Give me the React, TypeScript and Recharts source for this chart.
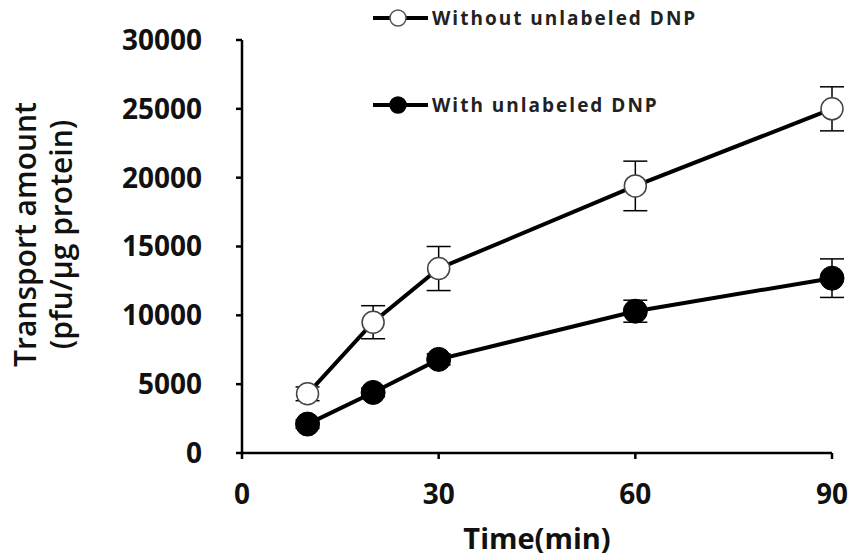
import React from 'react'
import {
  LineChart,
  Line,
  XAxis,
  YAxis,
  ErrorBar
} from 'recharts'

const times = [10, 20, 30, 60, 90]
const withoutDnp = [4300, 9500, 13400, 19400, 25000]
const withoutDnpErr = [500, 1200, 1600, 1800, 1600]
const withDnp = [2100, 4400, 6800, 10300, 12700]
const withDnpErr = [300, 300, 400, 800, 1400]
const xTicks = [0, 30, 60, 90]
const yTicks = [0, 5000, 10000, 15000, 20000, 25000, 30000]

const data = times.map((t, i) => ({
  time: t,
  without: withoutDnp[i],
  withoutErr: withoutDnpErr[i],
  withDnp: withDnp[i],
  withErr: withDnpErr[i]
}))

const FONT = '"Open Sans", "DejaVu Sans", sans-serif'

const YLabel = (props: any) => {
  const vb = props.viewBox || {}
  const cy = vb.y + vb.height / 2 - 12
  return (
    <g fontFamily={FONT} fontWeight={600} fontSize={30} fill="#111">
      <text x={25} y={cy} textAnchor="middle" transform={`rotate(-90, 25, ${cy})`} dy="0.35em">
        Transport amount
      </text>
      <text x={61} y={cy} textAnchor="middle" transform={`rotate(-90, 61, ${cy})`} dy="0.35em">
        (pfu/μg protein)
      </text>
    </g>
  )
}

const legendItems = [
  { label: 'Without unlabeled DNP', fill: '#fff', y: 18 },
  { label: 'With unlabeled DNP', fill: '#000', y: 105 }
]

const ChartLegend = () => (
  <svg width={380} height={125} style={{ position: 'absolute', left: 360, top: 0 }}>
    {legendItems.map(it => (
      <g key={it.label}>
        <line x1={13} x2={68} y1={it.y} y2={it.y} stroke="#000" strokeWidth={4} />
        <circle cx={38} cy={it.y} r={8} fill={it.fill} stroke={it.fill === '#fff' ? '#555' : '#000'} strokeWidth={1.5} />
        <text x={72} y={it.y} dy="0.35em" fontFamily={FONT} fontWeight={700} fontSize={19} letterSpacing={2} fill="#222">
          {it.label}
        </text>
      </g>
    ))}
  </svg>
)

export default function App() {
  return (
    <div style={{ position: 'absolute', left: 0, top: 0, width: 850, height: 560, background: '#fff' }}>
      <LineChart width={850} height={560} data={data} margin={{ top: 40, right: 18, bottom: 0, left: 0 }}>
        <XAxis
          dataKey="time"
          type="number"
          domain={[0, 90]}
          ticks={xTicks}
          height={107}
          stroke="#000"
          strokeWidth={2.5}
          tickSize={6}
          tick={{ fill: '#111', fontSize: 28, fontWeight: 700, fontFamily: FONT, dy: 23 }}
          label={{ value: 'Time(min)', position: 'insideBottom', offset: 11, fill: '#111', fontSize: 29, fontWeight: 700, fontFamily: FONT }}
        />
        <YAxis
          type="number"
          domain={[0, 30000]}
          ticks={yTicks}
          width={242}
          stroke="#000"
          strokeWidth={2.5}
          tickSize={6}
          tickMargin={34}
          tick={{ fill: '#111', fontSize: 28, fontWeight: 700, fontFamily: FONT }}
          label={<YLabel />}
        />
        <Line
          dataKey="without"
          name="Without unlabeled DNP"
          stroke="#000"
          strokeWidth={4}
          dot={{ r: 11, fill: '#fff', stroke: '#444', strokeWidth: 1.5 }}
          isAnimationActive={false}
        >
          <ErrorBar dataKey="withoutErr" width={12} stroke="#000" strokeWidth={1.5} direction="y" />
        </Line>
        <Line
          dataKey="withDnp"
          name="With unlabeled DNP"
          stroke="#000"
          strokeWidth={4}
          dot={{ r: 12, fill: '#000', stroke: '#000', strokeWidth: 1 }}
          isAnimationActive={false}
        >
          <ErrorBar dataKey="withErr" width={12} stroke="#000" strokeWidth={1.5} direction="y" />
        </Line>
      </LineChart>
      <ChartLegend />
    </div>
  )
}
